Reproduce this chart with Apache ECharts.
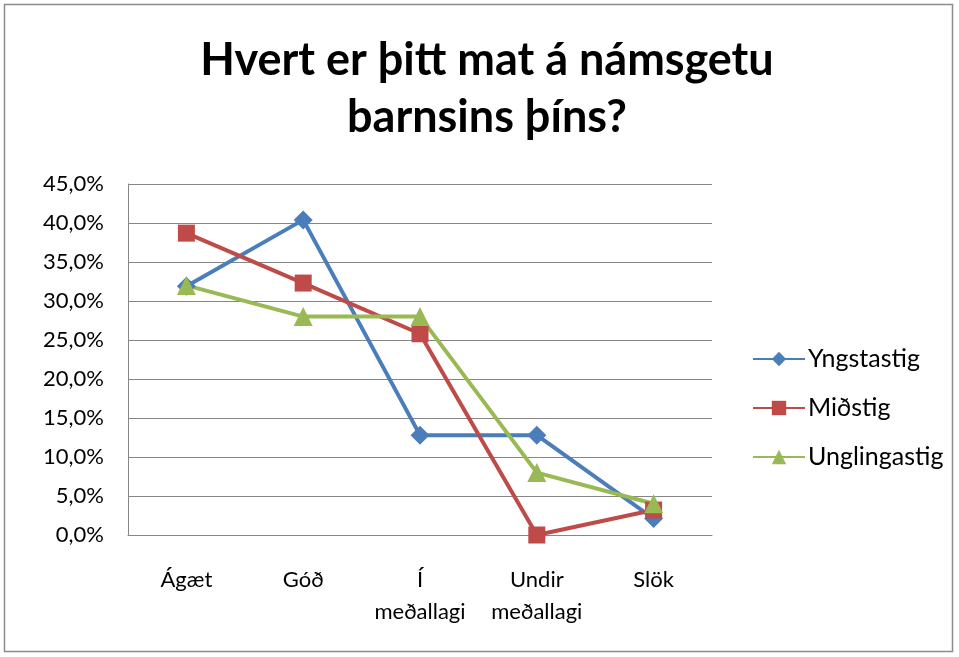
<!DOCTYPE html>
<html>
<head>
<meta charset="utf-8">
<script src="https://cdn.jsdelivr.net/npm/echarts@6/dist/echarts.min.js"></script>
<style>
  html, body { margin: 0; padding: 0; background: #fff; }
  #chart { width: 959px; height: 657px; }
</style>
</head>
<body>
<div id="chart"></div>
<script>
const categories = ['Ágæt', 'Góð', 'Í\nmeðallagi', 'Undir\nmeðallagi', 'Slök'];
const yngstastig = [31.9, 40.4, 12.8, 12.8, 2.1];
const midstig = [38.7, 32.3, 25.8, 0, 3.2];
const unglingastig = [32.0, 28.0, 28.0, 8.0, 4.0];

const font = 'Lato, "Open Sans", sans-serif';
const pct = (v) => v.toFixed(1).replace('.', ',') + '%';

const chart = echarts.init(document.getElementById('chart'));

const lineSeries = (name, data, color, symbol, size) => ({
  name,
  type: 'line',
  data,
  symbol,
  symbolSize: size,
  showAllSymbol: true,
  lineStyle: { color, width: 4 },
  itemStyle: { color },
  emphasis: { disabled: true },
  z: 3,
});

chart.setOption({
  animation: false,
  textStyle: { fontFamily: font },
  graphic: [{
    type: 'rect',
    shape: { x: 4.5, y: 4.5, width: 948, height: 647 },
    style: { fill: null, stroke: '#8c8c8c', lineWidth: 1.5 },
    silent: true,
  }],
  title: {
    text: 'Hvert er þitt mat á námsgetu\nbarnsins þíns?',
    left: 482,
    top: 27,
    textAlign: 'center',
    textStyle: { fontSize: 45, fontWeight: 'bold', color: '#000', lineHeight: 57, fontFamily: font },
  },
  legend: {
    orient: 'vertical',
    left: 747,
    top: 340,
    itemWidth: 52,
    itemHeight: 18,
    itemGap: 21,
    textStyle: { fontSize: 25, color: '#000', fontFamily: font, lineHeight: 28, padding: [0, 0, 0, -2] },
    data: ['Yngstastig', 'Miðstig', 'Unglingastig'],
  },
  grid: { left: 128, right: 247, top: 184, bottom: 122 },
  xAxis: {
    type: 'category',
    data: categories,
    boundaryGap: true,
    axisLine: { lineStyle: { color: '#868686', width: 1 } },
    axisTick: { show: false },
    axisLabel: { interval: 0, hideOverlap: false, fontSize: 22, color: '#000', lineHeight: 32, margin: 29 },
  },
  yAxis: {
    type: 'value',
    min: 0,
    max: 45,
    interval: 5,
    axisLine: { show: true, lineStyle: { color: '#868686', width: 1 } },
    axisTick: { show: false },
    splitLine: { lineStyle: { color: '#868686', width: 1 } },
    axisLabel: { fontSize: 22, color: '#000', margin: 24, formatter: pct },
  },
  series: [
    lineSeries('Yngstastig', yngstastig, '#4a7ebb', 'diamond', 19),
    lineSeries('Miðstig', midstig, '#be4b48', 'rect', 17),
    lineSeries('Unglingastig', unglingastig, '#98b954', 'triangle', 19),
  ],
});
</script>
</body>
</html>
